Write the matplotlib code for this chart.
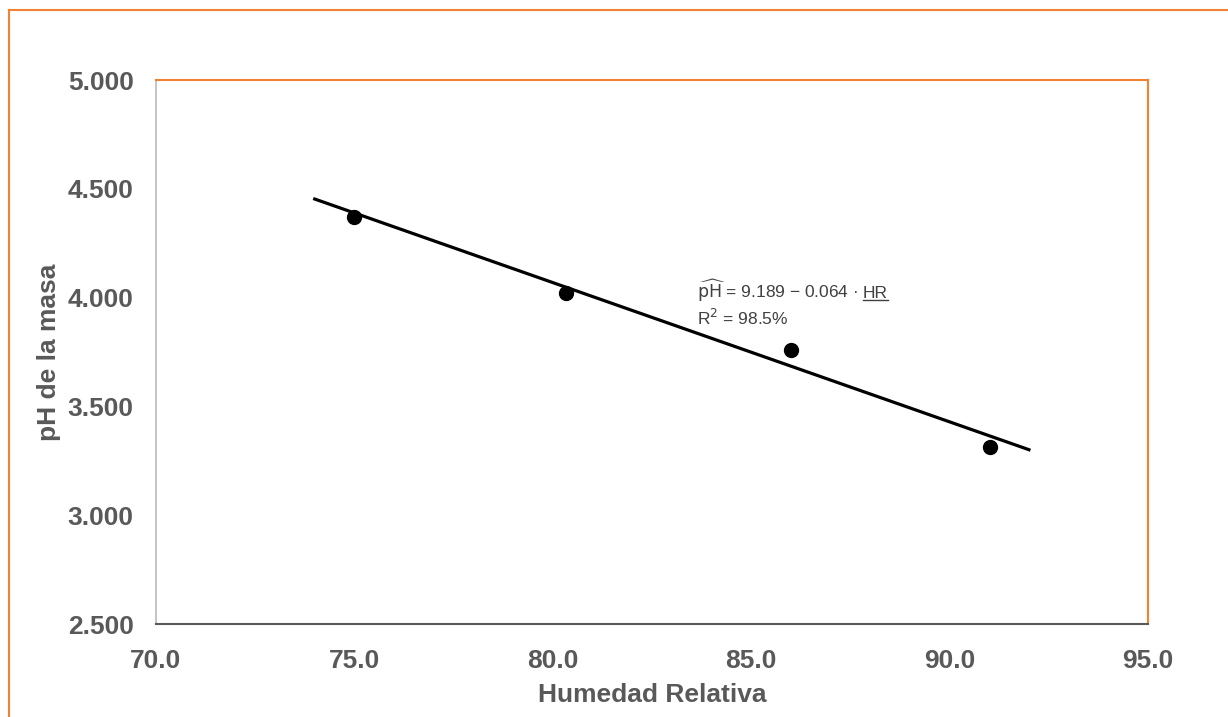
import matplotlib
matplotlib.use("Agg")
import matplotlib.pyplot as plt
from matplotlib.lines import Line2D

plt.rcParams['font.family'] = ['Liberation Sans', 'DejaVu Sans']

# Data
hr = [75.0, 80.33, 86.0, 91.02]
ph = [4.370, 4.022, 3.759, 3.313]
fit_intercept = 9.189
fit_slope = -0.064
fit_x = [74.0, 92.0]
fit_y = [fit_intercept + fit_slope * v for v in fit_x]
xticks = [70.0, 75.0, 80.0, 85.0, 90.0, 95.0]
yticks = [2.5, 3.0, 3.5, 4.0, 4.5, 5.0]

gray = '#595959'
orange = '#F08232'
txtgray = '#404040'

fig = plt.figure(figsize=(12.28, 7.17), dpi=100)
ax = fig.add_axes([156/1228, 1-624/717, (1148-156)/1228, (624-80)/717])

ax.plot(fit_x, fit_y, color='black', lw=2.3, zorder=2)
ax.plot(hr, ph, 'o', color='black', ms=10, zorder=3)

ax.set_xlim(70, 95)
ax.set_ylim(2.5, 5.0)
ax.set_xticks(xticks)
ax.set_yticks(yticks)
ax.set_xticklabels([f'{v:.1f}' for v in xticks])
ax.set_yticklabels([f'{v:.3f}' for v in yticks])
ax.tick_params(axis='both', length=0, labelsize=19, colors=gray)
ax.tick_params(axis='y', pad=16)
ax.tick_params(axis='x', pad=18)
for lab in ax.get_xticklabels() + ax.get_yticklabels():
    lab.set_fontweight('bold')

ax.spines['left'].set_color('#BFBFBF')
ax.spines['left'].set_linewidth(1.3)
ax.spines['bottom'].set_color(gray)
ax.spines['bottom'].set_linewidth(1.5)
ax.spines['top'].set_color(orange)
ax.spines['top'].set_linewidth(1.5)
ax.spines['right'].set_color(orange)
ax.spines['right'].set_linewidth(1.5)

ax.set_xlabel('Humedad Relativa', fontsize=19, fontweight='bold', color=gray, labelpad=7)
ax.set_ylabel('pH de la masa', fontsize=19, fontweight='bold', color=gray, labelpad=5)

# Equation annotation
fs = 12.5
t1 = ax.text(83.63, 4.00, r'$\widehat{\mathrm{pH}}$ = 9.189 − 0.064 ·', fontsize=fs,
             color=txtgray, va='baseline', ha='left', math_fontfamily='dejavusans')
ax.text(83.63, 3.875, r'R$^2$ = 98.5%', fontsize=fs, color=txtgray, va='baseline', ha='left')

fig.canvas.draw()
bb1 = t1.get_window_extent()
x_hr = ax.transData.inverted().transform((bb1.x1 + 5, 0))[0]
t2 = ax.text(x_hr, 4.00, 'HR', fontsize=fs, color=txtgray, va='baseline', ha='left')
fig.canvas.draw()
bb = t2.get_window_extent()
base_px = ax.transData.transform((0, 4.00))[1]
fig.add_artist(Line2D([bb.x0 / fig.bbox.width, bb.x1 / fig.bbox.width],
                      [(base_px - 2.5) / fig.bbox.height] * 2,
                      color=txtgray, lw=1.0, transform=fig.transFigure))

# Outer frame (top and left edges visible)
fig.add_artist(Line2D([9/1228, 1.0], [1-10/717, 1-10/717], color=orange, lw=1.5,
                      transform=fig.transFigure))
fig.add_artist(Line2D([9/1228, 9/1228], [0.0, 1-10/717], color=orange, lw=1.5,
                      transform=fig.transFigure))

fig.savefig('out.png', dpi=100)
